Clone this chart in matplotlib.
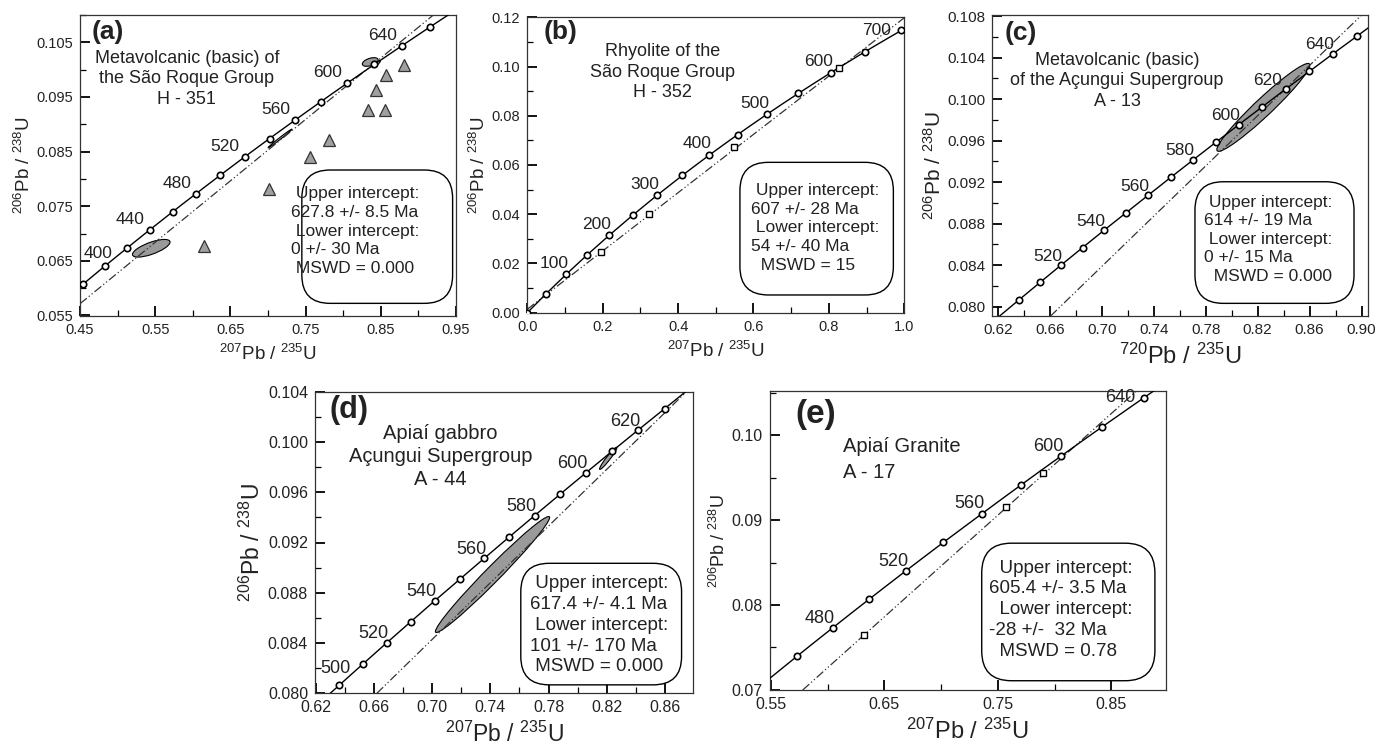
import matplotlib
import matplotlib.pyplot as plt
from matplotlib.patches import Ellipse, FancyBboxPatch
from matplotlib.ticker import FormatStrFormatter, MultipleLocator

matplotlib.use("Agg")

plt.rcParams["font.family"] = ["Liberation Sans", "DejaVu Sans"]
plt.rcParams["mathtext.fontset"] = "custom"
plt.rcParams["mathtext.rm"] = "Liberation Sans"
plt.rcParams["mathtext.it"] = "Liberation Sans:italic"
plt.rcParams["mathtext.bf"] = "Liberation Sans:bold"

# Concordia curve: age (Ma), 207Pb/235U, 206Pb/238U
concordia_age = [0, 50, 100, 150, 200, 250, 300, 350, 370, 380, 390, 400, 410, 420, 430,
                 440, 450, 460, 470, 480, 490, 500, 510, 520, 530, 540, 550, 560, 570, 580,
                 590, 600, 610, 620, 630, 640, 650, 660, 670, 680, 690, 700, 710]
concordia_x = [0.0, 0.0505, 0.1035, 0.1592, 0.2177, 0.2792, 0.3437, 0.4116, 0.4396, 0.4539,
               0.4683, 0.4828, 0.4975, 0.5123, 0.5273, 0.5424, 0.5577, 0.5731, 0.5886, 0.6044,
               0.6202, 0.6363, 0.6525, 0.6688, 0.6853, 0.7020, 0.7189, 0.7359, 0.7531, 0.7704,
               0.7879, 0.8056, 0.8235, 0.8415, 0.8598, 0.8782, 0.8968, 0.9155, 0.9345, 0.9537,
               0.9730, 0.9925, 1.0122]
concordia_y = [0.0, 0.00779, 0.01563, 0.02354, 0.03151, 0.03954, 0.04764, 0.05580, 0.05908,
               0.06072, 0.06237, 0.06402, 0.06567, 0.06732, 0.06898, 0.07064, 0.07230, 0.07397,
               0.07563, 0.07730, 0.07897, 0.08065, 0.08233, 0.08401, 0.08569, 0.08738, 0.08906,
               0.09075, 0.09245, 0.09414, 0.09584, 0.09754, 0.09925, 0.10095, 0.10266, 0.10438,
               0.10609, 0.10781, 0.10953, 0.11125, 0.11297, 0.11470, 0.11643]

# (a) H-351
a_marked = [380, 400, 420, 440, 460, 480, 500, 520, 540, 560, 580, 600, 620, 640, 660]
a_labelled = [400, 440, 480, 520, 560, 600, 640]
a_discordia = [(0.4557, 0.0578), (0.920, 0.110)]
a_tri_x = [0.8814, 0.8570, 0.8437, 0.8335, 0.8557, 0.7813, 0.7561, 0.7019, 0.6142]
a_tri_y = [0.1009, 0.0991, 0.0962, 0.0927, 0.0927, 0.0872, 0.0840, 0.0781, 0.0678]
a_ell_x = [0.5447, 0.7160, 0.8360, 0.8440]
a_ell_y = [0.0673, 0.0874, 0.1014, 0.1010]
a_ell_w = [0.050, 0.032, 0.021, 0.011]
a_ell_h = [0.0023, 0.0004, 0.0014, 0.0006]
a_ell_ang = [2.6, 6.1, 2.0, 6.0]
a_title = ["Metavolcanic (basic) of", "the São Roque Group", "H - 351"]
a_result = [" Upper intercept:", "627.8 +/- 8.5 Ma", " Lower intercept:", "0 +/- 30 Ma",
            " MSWD = 0.000"]

# (b) H-352
b_marked = [0, 50, 100, 150, 200, 250, 300, 350, 400, 450, 500, 550, 600, 650, 700]
b_labelled = [100, 200, 300, 400, 500, 600, 700]
b_discordia = [(0.0, 0.0014), (1.0, 0.1198)]
b_sq_x = [0.195, 0.322, 0.5496, 0.827]
b_sq_y = [0.0245, 0.0400, 0.0675, 0.0993]
b_title = ["Rhyolite of the", "São Roque Group", "H - 352"]
b_result = [" Upper intercept:", "607 +/- 28 Ma", " Lower intercept:", "54 +/- 40 Ma",
            "  MSWD = 15"]

# (c) A-13
c_marked = [500, 510, 520, 530, 540, 550, 560, 570, 580, 590, 600, 610, 620, 630, 640, 650]
c_labelled = [520, 540, 560, 580, 600, 620, 640]
c_discordia = [(0.6615, 0.0792), (0.9001, 0.1081)]
c_ell_x = [0.8244]
c_ell_y = [0.0992]
c_ell_w = [0.072]
c_ell_h = [0.0023]
c_ell_ang = [6.5]
c_title = ["Metavolcanic (basic)", "of the Açungui Supergroup", "A - 13"]
c_result = [" Upper intercept:", "614 +/- 19 Ma", " Lower intercept:", "0 +/- 15 Ma",
            "  MSWD = 0.000"]

# (d) A-44
d_marked = [500, 510, 520, 530, 540, 550, 560, 570, 580, 590, 600, 610, 620, 630]
d_labelled = [500, 520, 540, 560, 580, 600, 620]
d_discordia = [(0.6630, 0.0801), (0.8747, 0.1040)]
d_ell_x = [0.7415, 0.8210]
d_ell_y = [0.08945, 0.0987]
d_ell_w = [0.079, 0.012]
d_ell_h = [0.0017, 0.0005]
d_ell_ang = [6.6, 8.1]
d_title = ["Apiaí gabbro", "Açungui Supergroup", "A - 44"]
d_result = [" Upper intercept:", "617.4 +/- 4.1 Ma", " Lower intercept:", "101 +/- 170 Ma",
            " MSWD = 0.000"]

# (e) A-17
e_marked = [460, 480, 500, 520, 540, 560, 580, 600, 620, 640]
e_labelled = [480, 520, 560, 600, 640]
e_discordia = [(0.579, 0.0701), (0.872, 0.1052)]
e_sq_x = [0.6318, 0.7569, 0.7896]
e_sq_y = [0.0765, 0.0915, 0.0956]
e_title = ["Apiaí Granite", "A - 17"]
e_result = ["  Upper intercept:", "605.4 +/- 3.5 Ma", "  Lower intercept:", "-28 +/-  32 Ma",
            "  MSWD = 0.78"]

FIG_W, FIG_H = 1385, 751


def axes_at(fig, left, top, right, bottom):
    # pixel box -> figure fraction
    return fig.add_axes([left / FIG_W, 1 - bottom / FIG_H, (right - left) / FIG_W, (bottom - top) / FIG_H])


def draw_panel(ax, p):
    ax.set_xlim(*p["xlim"])
    ax.set_ylim(*p["ylim"])

    # concordia with age ticks
    ax.plot(concordia_x, concordia_y, color="black", lw=1.0, zorder=3)
    idx = [concordia_age.index(t) for t in p["marked"]]
    ax.plot([concordia_x[i] for i in idx], [concordia_y[i] for i in idx], "o", ms=4.6,
            mfc="white", mec="black", mew=1.2, zorder=5)
    for t in p["labelled"]:
        i = concordia_age.index(t)
        ax.annotate(str(t), (concordia_x[i], concordia_y[i]), xytext=p["special"].get(t, p["offset"]),
                    textcoords="offset points", ha="center", va="center", fontsize=p["age_fs"],
                    color="#222222", zorder=6)

    # discordia
    ax.axline(p["discordia"][0], p["discordia"][1], color="#333333", lw=0.9,
              ls=(0, (7, 2, 1, 2, 1, 2)), zorder=2.5)

    for ex, ey, ew, eh, ea, fc in zip(*p.get("ellipses", ([], [], [], [], [], []))):
        ax.add_patch(Ellipse((ex, ey), ew, eh, angle=ea, facecolor=fc, edgecolor="black",
                             lw=0.8, zorder=2))
    if "tri" in p:
        ax.plot(p["tri"][0], p["tri"][1], "^", ms=9, mfc="#a0a0a0", mec="#333333", mew=0.9,
                ls="none", zorder=4)
    if "sq" in p:
        ax.plot(p["sq"][0], p["sq"][1], "s", ms=4.5, mfc="white", mec="black", mew=1.0,
                ls="none", zorder=5)

    ax.text(*p["tag_pos"], p["tag"], transform=ax.transAxes, ha="center", va="center",
            fontsize=p["tag_fs"], fontweight="bold", color="#222222")
    # sample name, one text per line
    for k, line in enumerate(p["title"]):
        ax.annotate(line, p["title_pos"], xycoords="axes fraction", xytext=(0, -k * p["title_step"]),
                    textcoords="offset points", ha=p["title_ha"], va="center",
                    fontsize=p["title_fs"], color="#222222")

    # result box
    bx0, by0, bx1, by1 = p["box"]
    bw = ax.get_position().width * FIG_W
    bh = ax.get_position().height * FIG_H
    ax.add_patch(FancyBboxPatch((bx0, by0), bx1 - bx0, by1 - by0,
                                boxstyle="round,pad=0,rounding_size=0.075",
                                mutation_aspect=bw / bh, transform=ax.transAxes,
                                facecolor="white", edgecolor="black", lw=1.0, zorder=6))
    ax.text(*p["result_pos"], "\n".join(p["result"]), transform=ax.transAxes, ha="left",
            va="center", fontsize=p["result_fs"], linespacing=1.3, color="#222222", zorder=7)

    # axes cosmetics
    ax.xaxis.set_major_locator(MultipleLocator(p["xmaj"][0], offset=p["xmaj"][1]))
    ax.xaxis.set_minor_locator(MultipleLocator(p["xmin"]))
    ax.yaxis.set_major_locator(MultipleLocator(p["ymaj"][0], offset=p["ymaj"][1]))
    ax.yaxis.set_minor_locator(MultipleLocator(p["ymin"]))
    ax.xaxis.set_major_formatter(FormatStrFormatter(p["xfmt"]))
    ax.yaxis.set_major_formatter(FormatStrFormatter(p["yfmt"]))
    ax.tick_params(which="both", direction="in", top=False, right=False, labelsize=p["tick_fs"],
                   labelcolor="#222222", pad=5)
    ax.tick_params(which="major", length=7, width=1.3)
    ax.tick_params(which="minor", length=4, width=0.9)
    for s in ax.spines.values():
        s.set_linewidth(0.9)
        s.set_color("#333333")
    ax.set_xlabel(p["xlabel"], fontsize=p["xlab_fs"], labelpad=5, color="#222222")
    ax.set_ylabel(p["ylabel"], fontsize=p["ylab_fs"], labelpad=2, color="#222222")


fig = plt.figure(figsize=(FIG_W / 100, FIG_H / 100), dpi=100)

lab207 = r"$^{207}$Pb / $^{235}$U"
lab206 = r"$^{206}$Pb / $^{238}$U"

panels = [
    (axes_at(fig, 80, 15, 456, 316), dict(
        xlim=(0.4499, 0.9501), ylim=(0.0549, 0.1100), xmaj=(0.1, 0.05), xmin=0.05,
        ymaj=(0.01, 0.005), ymin=0.005, xfmt="%.2f", yfmt="%.3f", tick_fs=10.5,
        marked=a_marked, labelled=a_labelled, offset=(-14, 7.5), special={400: (-5, 9)}, age_fs=12.5,
        discordia=a_discordia,
        ellipses=(a_ell_x, a_ell_y, a_ell_w, a_ell_h, a_ell_ang, ["#9a9a9a", "#bbbbbb", "#9a9a9a", "white"]),
        tri=(a_tri_x, a_tri_y),
        tag="(a)", tag_pos=(0.075, 0.945), tag_fs=19,
        title=a_title, title_pos=(0.284, 0.856), title_step=14.8, title_ha="center", title_fs=13,
        box=(0.590, 0.042, 0.991, 0.485), result=a_result, result_pos=(0.560, 0.282), result_fs=12.5,
        xlabel=lab207, ylabel=lab206, xlab_fs=13.5, ylab_fs=13.5)),
    (axes_at(fig, 527.3, 17.3, 904.3, 312.7), dict(
        xlim=(-0.0001, 1.0001), ylim=(-0.00001, 0.12001), xmaj=(0.2, 0.0), xmin=0.1,
        ymaj=(0.02, 0.0), ymin=0.01, xfmt="%.1f", yfmt="%.2f", tick_fs=10.5,
        marked=b_marked, labelled=b_labelled, offset=(-9, 8), special={700: (-18, 0)}, age_fs=12.5,
        discordia=b_discordia, sq=(b_sq_x, b_sq_y),
        tag="(b)", tag_pos=(0.089, 0.951), tag_fs=19,
        title=b_title, title_pos=(0.358, 0.884), title_step=14.9, title_ha="center", title_fs=13,
        box=(0.564, 0.060, 0.971, 0.509), result=b_result, result_pos=(0.593, 0.287), result_fs=12.5,
        xlabel=lab207, ylabel=lab206, xlab_fs=13.5, ylab_fs=13.5)),
    (axes_at(fig, 992.3, 15, 1368.3, 316), dict(
        xlim=(0.6158, 0.9052), ylim=(0.0791, 0.1081), xmaj=(0.04, 0.02), xmin=0.02,
        ymaj=(0.004, 0.0), ymin=0.002, xfmt="%.2f", yfmt="%.3f", tick_fs=11,
        marked=c_marked, labelled=c_labelled, offset=(-9.5, 6.5), special={620: (-13, 6.5)}, age_fs=12.5,
        discordia=c_discordia,
        ellipses=(c_ell_x, c_ell_y, c_ell_w, c_ell_h, c_ell_ang, ["#9a9a9a"]),
        tag="(c)", tag_pos=(0.0755, 0.939), tag_fs=19,
        title=c_title, title_pos=(0.332, 0.850), title_step=15, title_ha="center", title_fs=13,
        box=(0.539, 0.042, 0.962, 0.446), result=c_result, result_pos=(0.563, 0.255), result_fs=12.5,
        xlabel=r"$^{720}$Pb / $^{235}$U", ylabel=lab206, xlab_fs=17, ylab_fs=15)),
    (axes_at(fig, 315, 391.7, 693.3, 693.3), dict(
        xlim=(0.6195, 0.8795), ylim=(0.07999, 0.10401), xmaj=(0.04, 0.02), xmin=0.02,
        ymaj=(0.004, 0.0), ymin=0.002, xfmt="%.2f", yfmt="%.3f", tick_fs=11.5,
        marked=d_marked, labelled=d_labelled, offset=(-9.5, 6.5), special={500: (-3, 12)}, age_fs=13,
        discordia=d_discordia,
        ellipses=(d_ell_x, d_ell_y, d_ell_w, d_ell_h, d_ell_ang, ["#9a9a9a", "#9a9a9a"]),
        tag="(d)", tag_pos=(0.090, 0.939), tag_fs=22,
        title=d_title, title_pos=(0.332, 0.862), title_step=16.8, title_ha="center", title_fs=14.5,
        box=(0.544, 0.028, 0.969, 0.431), result=d_result, result_pos=(0.568, 0.226), result_fs=13.5,
        xlabel=lab207, ylabel=lab206, xlab_fs=16.5, ylab_fs=16.5)),
    (axes_at(fig, 769.7, 391, 1166, 690), dict(
        xlim=(0.549, 0.898), ylim=(0.06999, 0.1052), xmaj=(0.1, 0.05), xmin=0.05,
        ymaj=(0.01, 0.0), ymin=0.005, xfmt="%.2f", yfmt="%.2f", tick_fs=11.5,
        marked=e_marked, labelled=e_labelled, offset=(-9, 7), special={640: (-17, 0)}, age_fs=13,
        discordia=e_discordia, sq=(e_sq_x, e_sq_y),
        tag="(e)", tag_pos=(0.116, 0.920), tag_fs=24,
        title=e_title, title_pos=(0.186, 0.814), title_step=18.7, title_ha="left", title_fs=14.5,
        box=(0.535, 0.031, 0.972, 0.491), result=e_result, result_pos=(0.554, 0.268), result_fs=13.5,
        xlabel=lab207, ylabel=lab206, xlab_fs=17, ylab_fs=13)),
]

for ax, p in panels:
    draw_panel(ax, p)

fig.savefig("out.png", dpi=100)
